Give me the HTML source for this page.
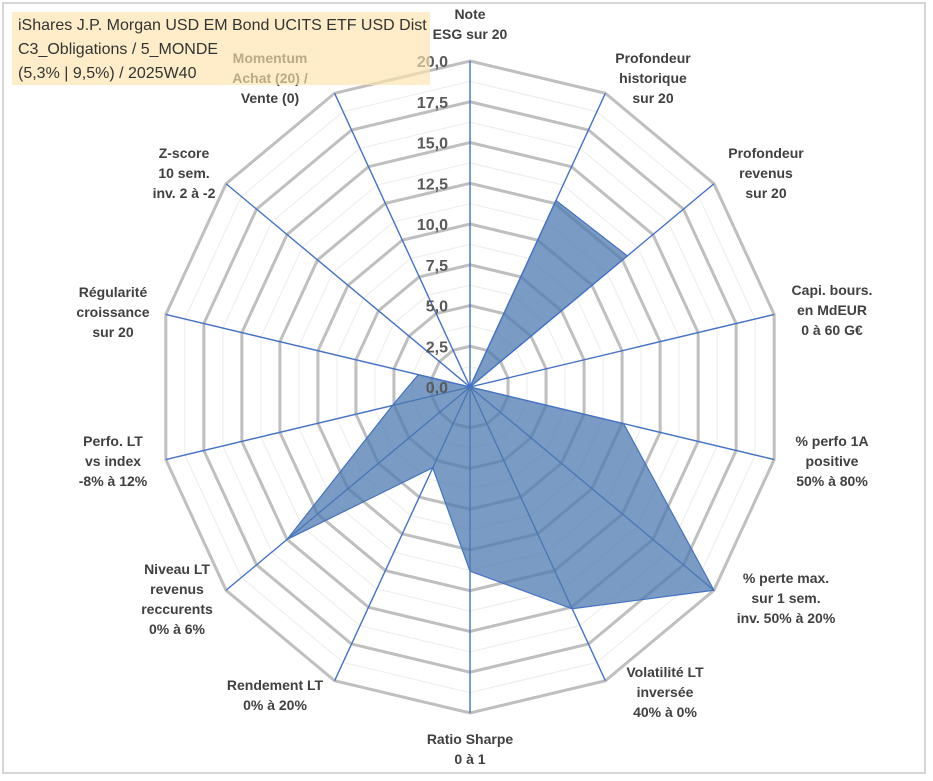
<!DOCTYPE html>
<html><head><meta charset="utf-8"><style>
body{margin:0;background:#fff;width:933px;height:776px;overflow:hidden;font-family:"Liberation Sans",Arial,sans-serif}
</style></head><body>
<svg id="chart" width="933" height="776" xmlns="http://www.w3.org/2000/svg">
<rect x="3" y="3" width="922" height="770" fill="#fff" stroke="#c8c8c8" stroke-width="1.5"/>
<g id="grid"></g><g id="series"></g><g id="ticks"></g><g id="labels"></g>
<rect x="12" y="12" width="418" height="73" fill="rgba(253,228,170,0.65)"/>
<text x="18" y="30" font-family="Liberation Sans,sans-serif" font-size="16" fill="#333">iShares J.P. Morgan USD EM Bond UCITS ETF USD Dist</text>
<text x="18" y="54" font-family="Liberation Sans,sans-serif" font-size="16" fill="#333">C3_Obligations / 5_MONDE</text>
<text x="18" y="78" font-family="Liberation Sans,sans-serif" font-size="16" fill="#333">(5,3% | 9,5%) / 2025W40</text>
</svg>
<script>
const categories=[["Note","ESG sur 20"],["Profondeur","historique","sur 20"],["Profondeur","revenus","sur 20"],["Capi. bours.","en MdEUR","0 à 60 G€"],["% perfo 1A","positive","50% à 80%"],["% perte max.","sur 1 sem.","inv. 50% à 20%"],["Volatilité LT","inversée","40% à 0%"],["Ratio Sharpe","0 à 1"],["Rendement LT","0% à 20%"],["Niveau LT","revenus","reccurents","0% à 6%"],["Perfo. LT","vs index","-8% à 12%"],["Régularité","croissance","sur 20"],["Z-score","10 sem.","inv. 2 à -2"],["Momentum","Achat (20) /","Vente (0)"]];
const values=[0,12.7,12.9,0,10.1,20,15.1,11.3,5.5,15,5.1,3.4,0,0];
const tickValues=[0,2.5,5,7.5,10,12.5,15,17.5,20];
const tickLabels=["0,0","2,5","5,0","7,5","10,0","12,5","15,0","17,5","20,0"];
const labelPos=[[470,14],[653,58],[766,153],[832,290],[832,441],[786,578],[665,672],[470,739],[275,685],[177,569],[113,441],[113,292],[184,153],[270,58]];
const cx=470,cy=387,rx=312,ry=326,maxV=20,N=categories.length;
const NS="http://www.w3.org/2000/svg";
function pt(i,v){const a=2*Math.PI*i/N;return [cx+Math.sin(a)*rx*v/maxV,cy-Math.cos(a)*ry*v/maxV];}
function mk(t,at,p){const e=document.createElementNS(NS,t);for(const k in at)e.setAttribute(k,at[k]);p.appendChild(e);return e;}
const grid=document.getElementById('grid');
for(let v=1.25;v<=20.01;v+=1.25){
 const major=Math.abs(v/2.5-Math.round(v/2.5))<1e-6;
 const pts=[];for(let i=0;i<N;i++)pts.push(pt(i,v).join(','));
 const e=mk('polygon',{points:pts.join(' '),fill:'none',stroke:major?'#bfbfbf':'#ececec','stroke-width':major?3:1},grid);
 
 
}
for(let i=0;i<N;i++){const p=pt(i,maxV);
 const e=mk('line',{x1:cx,y1:cy,x2:p[0],y2:p[1],stroke:'#4472c4','stroke-width':1.4},grid);
 
 }
const s=document.getElementById('series');
const sp=values.map((v,i)=>pt(i,v).join(',')).join(' ');
const poly=mk('polygon',{points:sp,fill:'rgba(78,121,176,0.75)',stroke:'#4472c4','stroke-width':1.2},s);


const tg=document.getElementById('ticks');
tickValues.forEach((v,k)=>{const y=cy-ry*v/maxV;
 const t=mk('text',{x:448,y:y+6,'text-anchor':'end','font-size':16,'font-weight':'bold',fill:'#595959'},tg);
 t.textContent=tickLabels[k];
 
 });
const lg=document.getElementById('labels');
categories.forEach((lines,i)=>{const [x,y]=labelPos[i];
 const t=mk('text',{x:x,y:y+5,'text-anchor':'middle','font-size':14,'font-weight':'bold',fill:'#404040'},lg);
 
 
 lines.forEach((l,j)=>{const ts=mk('tspan',{x:x,y:y+5+j*20},t);ts.textContent=l;});});
</script>
</body></html>
